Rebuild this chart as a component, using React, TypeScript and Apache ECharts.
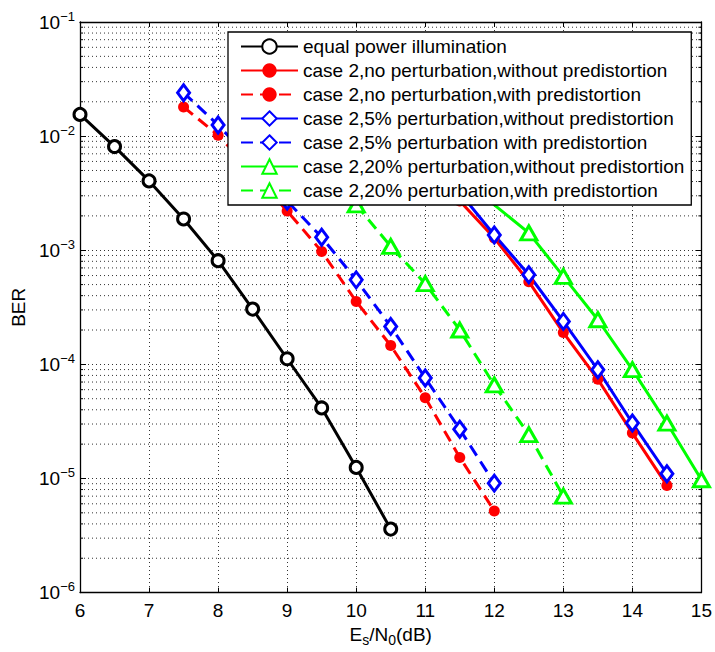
import React, { useEffect, useRef } from "react";
import * as echarts from "echarts";

const X_MIN = 6;
const X_MAX = 15;
const Y_MIN = 1e-6;
const Y_MAX = 1e-1;

const seriesNames = [
  "equal power illumination",
  "case 2,no perturbation,without predistortion",
  "case 2,no perturbation,with predistortion",
  "case 2,5% perturbation,without predistortion",
  "case 2,5% perturbation with predistortion",
  "case 2,20% perturbation,without predistortion",
  "case 2,20% perturbation,with predistortion",
];

const equalPowerX = [6, 6.5, 7, 7.5, 8, 8.5, 9, 9.5, 10, 10.5];
const equalPowerBER = [1.55e-2, 8.1e-3, 4.05e-3, 1.88e-3, 8.1e-4, 3.05e-4, 1.12e-4, 4.15e-5, 1.25e-5, 3.6e-6];

const noPertNoPreX = [11.5, 12, 12.5, 13, 13.5, 14, 14.5];
const noPertNoPreBER = [2.7e-3, 1.28e-3, 5.3e-4, 1.9e-4, 7.4e-5, 2.5e-5, 8.7e-6];

const noPertPreX = [7.5, 8, 8.5, 9, 9.5, 10, 10.5, 11, 11.5, 12];
const noPertPreBER = [1.8e-2, 1.02e-2, 4.8e-3, 2.21e-3, 9.75e-4, 3.56e-4, 1.46e-4, 5.1e-5, 1.53e-5, 5.2e-6];

const pert5NoPreX = [11.5, 12, 12.5, 13, 13.5, 14, 14.5];
const pert5NoPreBER = [3.2e-3, 1.36e-3, 6.1e-4, 2.38e-4, 8.97e-5, 3.06e-5, 1.1e-5];

const pert5PreX = [7.5, 8, 8.5, 9, 9.5, 10, 10.5, 11, 11.5, 12];
const pert5PreBER = [2.4e-2, 1.25e-2, 6.0e-3, 2.7e-3, 1.3e-3, 5.5e-4, 2.15e-4, 7.6e-5, 2.7e-5, 9.1e-6];

const pert20NoPreX = [11.5, 12.5, 13, 13.5, 14, 14.5, 15];
const pert20NoPreBER = [4.4e-3, 1.42e-3, 5.9e-4, 2.46e-4, 9.0e-5, 3.06e-5, 9.75e-6];

const pert20PreX = [10, 10.5, 11, 11.5, 12, 12.5, 13];
const pert20PreBER = [2.5e-3, 1.08e-3, 5.1e-4, 2.0e-4, 6.6e-5, 2.42e-5, 7.0e-6];

const xTickValues = [6, 7, 8, 9, 10, 11, 12, 13, 14, 15];
const decadeExponents = [-6, -5, -4, -3, -2];
const minorMantissas = [2, 3, 4, 5, 6, 7, 8, 9];

const FONT = "'Liberation Sans', Arial, Helvetica, sans-serif";
const DASH = [12, 7];

const zip = (xs: number[], ys: number[]) => xs.map((x, i) => [x, ys[i]]);

function makeLine(
  name: string,
  xs: number[],
  ys: number[],
  color: string,
  dashed: boolean,
  symbol: string,
  symbolSize: number | number[],
  hollow: boolean
) {
  return {
    name,
    type: "line",
    data: zip(xs, ys),
    clip: false,
    z: 3,
    symbol,
    symbolSize,
    showAllSymbol: true,
    lineStyle: { color, width: 3, type: dashed ? DASH : "solid" },
    itemStyle: hollow
      ? { color: "#fff", borderColor: color, borderWidth: 3 }
      : { color, borderColor: color, borderWidth: 0 },
    emphasis: { disabled: true },
  };
}

export default function App() {
  const ref = useRef<HTMLDivElement>(null);

  useEffect(() => {
    if (!ref.current) return;
    const chart = echarts.init(ref.current, undefined, { renderer: "svg" });

    const minorY: number[][] = [];
    decadeExponents.forEach((e) =>
      minorMantissas.forEach((m) => minorY.push([X_MIN, m * Math.pow(10, e)]))
    );

    const option: any = {
      animation: false,
      backgroundColor: "#fff",
      textStyle: { fontFamily: FONT },
      grid: { left: 80, right: 11, top: 22, bottom: 59, containLabel: false },
      legend: {
        orient: "vertical",
        left: 228,
        top: 32,
        data: seriesNames,
        backgroundColor: "#fff",
        borderColor: "#000",
        borderWidth: 1.3,
        borderRadius: 0,
        padding: [5, 7, 5, 12],
        itemWidth: 57,
        itemHeight: 18,
        itemGap: 5,
        z: 10,
        selectedMode: false,
        textStyle: { fontSize: 19, color: "#000", fontFamily: FONT },
      },
      xAxis: [
        {
          type: "value",
          min: X_MIN,
          max: X_MAX,
          interval: 1,
          position: "bottom",
          axisLine: { show: true, onZero: false, lineStyle: { color: "#000", width: 1.3 } },
          axisTick: { show: true, inside: true, length: 5, lineStyle: { color: "#000" } },
          axisLabel: {
            color: "#000",
            fontSize: 19,
            margin: 8,
            fontFamily: FONT,
            customValues: xTickValues,
          },
          splitLine: { show: true, lineStyle: { color: "#333", width: 1, type: [1, 3] } },
          name: "{n|E}{s|s}{n|/N}{s|0}{n|(dB)}",
          nameLocation: "middle",
          nameGap: 28,
          nameTextStyle: {
            rich: {
              n: { fontSize: 19, color: "#000", fontFamily: FONT },
              s: { fontSize: 14, color: "#000", fontFamily: FONT, padding: [12, 0, 0, 0] },
            },
          },
        },
        {
          type: "value",
          min: X_MIN,
          max: X_MAX,
          interval: 1,
          position: "top",
          axisLine: { show: true, onZero: false, lineStyle: { color: "#000", width: 1.3 } },
          axisTick: { show: true, inside: true, length: 5, lineStyle: { color: "#000" } },
          axisLabel: { show: false },
          splitLine: { show: false },
        },
      ],
      yAxis: [
        {
          type: "log",
          logBase: 10,
          min: Y_MIN,
          max: Y_MAX,
          position: "left",
          axisLine: { show: true, onZero: false, lineStyle: { color: "#000", width: 1.3 } },
          axisTick: { show: true, inside: true, length: 6, lineStyle: { color: "#000" } },
          axisLabel: {
            margin: 5,
            formatter: (v: number) => {
              const e = Math.round(Math.log10(v));
              return `{b|10}{e|\u2212${-e}}`;
            },
            rich: {
              b: { fontSize: 19, color: "#000", fontFamily: FONT },
              e: { fontSize: 13, color: "#000", fontFamily: FONT, padding: [0, 0, 12, 0] },
            },
          },
          splitLine: { show: true, lineStyle: { color: "#333", width: 1, type: [1, 3] } },
          name: "BER",
          nameLocation: "middle",
          nameRotate: 90,
          nameGap: 50,
          nameTextStyle: { fontSize: 19, color: "#000", fontFamily: FONT },
        },
        {
          type: "log",
          logBase: 10,
          min: Y_MIN,
          max: Y_MAX,
          position: "right",
          axisLine: { show: true, onZero: false, lineStyle: { color: "#000", width: 1.3 } },
          axisTick: { show: true, inside: true, length: 6, lineStyle: { color: "#000" } },
          axisLabel: { show: false },
          splitLine: { show: false },
        },
      ],
      series: [
        {
          type: "custom",
          name: "minorGrid",
          silent: true,
          z: 1,
          xAxisIndex: 0,
          yAxisIndex: 0,
          clip: false,
          data: minorY,
          renderItem: (params: any, api: any) => {
            const v = api.value(1);
            const p1 = api.coord([X_MIN, v]);
            const p2 = api.coord([X_MAX, v]);
            return {
              type: "group",
              children: [
                {
                  type: "line",
                  shape: { x1: p1[0], y1: p1[1], x2: p2[0], y2: p2[1] },
                  style: { stroke: "#333", lineWidth: 1, lineDash: [1, 3] },
                },
                {
                  type: "line",
                  shape: { x1: p1[0], y1: p1[1], x2: p1[0] + 3, y2: p1[1] },
                  style: { stroke: "#000", lineWidth: 1 },
                },
                {
                  type: "line",
                  shape: { x1: p2[0] - 3, y1: p2[1], x2: p2[0], y2: p2[1] },
                  style: { stroke: "#000", lineWidth: 1 },
                },
              ],
            };
          },
        },
        makeLine(seriesNames[0], equalPowerX, equalPowerBER, "#000000", false, "circle", 12, true),
        makeLine(seriesNames[1], noPertNoPreX, noPertNoPreBER, "#ff0000", false, "circle", 11, false),
        makeLine(seriesNames[2], noPertPreX, noPertPreBER, "#ff0000", true, "circle", 11, false),
        makeLine(seriesNames[3], pert5NoPreX, pert5NoPreBER, "#0000ff", false, "diamond", [12, 16], true),
        makeLine(seriesNames[4], pert5PreX, pert5PreBER, "#0000ff", true, "diamond", [12, 16], true),
        makeLine(seriesNames[5], pert20NoPreX, pert20NoPreBER, "#00ff00", false, "triangle", [16, 14], true),
        makeLine(seriesNames[6], pert20PreX, pert20PreBER, "#00ff00", true, "triangle", [16, 14], true),
      ],
    };

    chart.setOption(option);
    return () => chart.dispose();
  }, []);

  return (
    <div
      ref={ref}
      style={{ position: "fixed", left: 0, top: 0, width: 715, height: 652, background: "#fff" }}
    />
  );
}
